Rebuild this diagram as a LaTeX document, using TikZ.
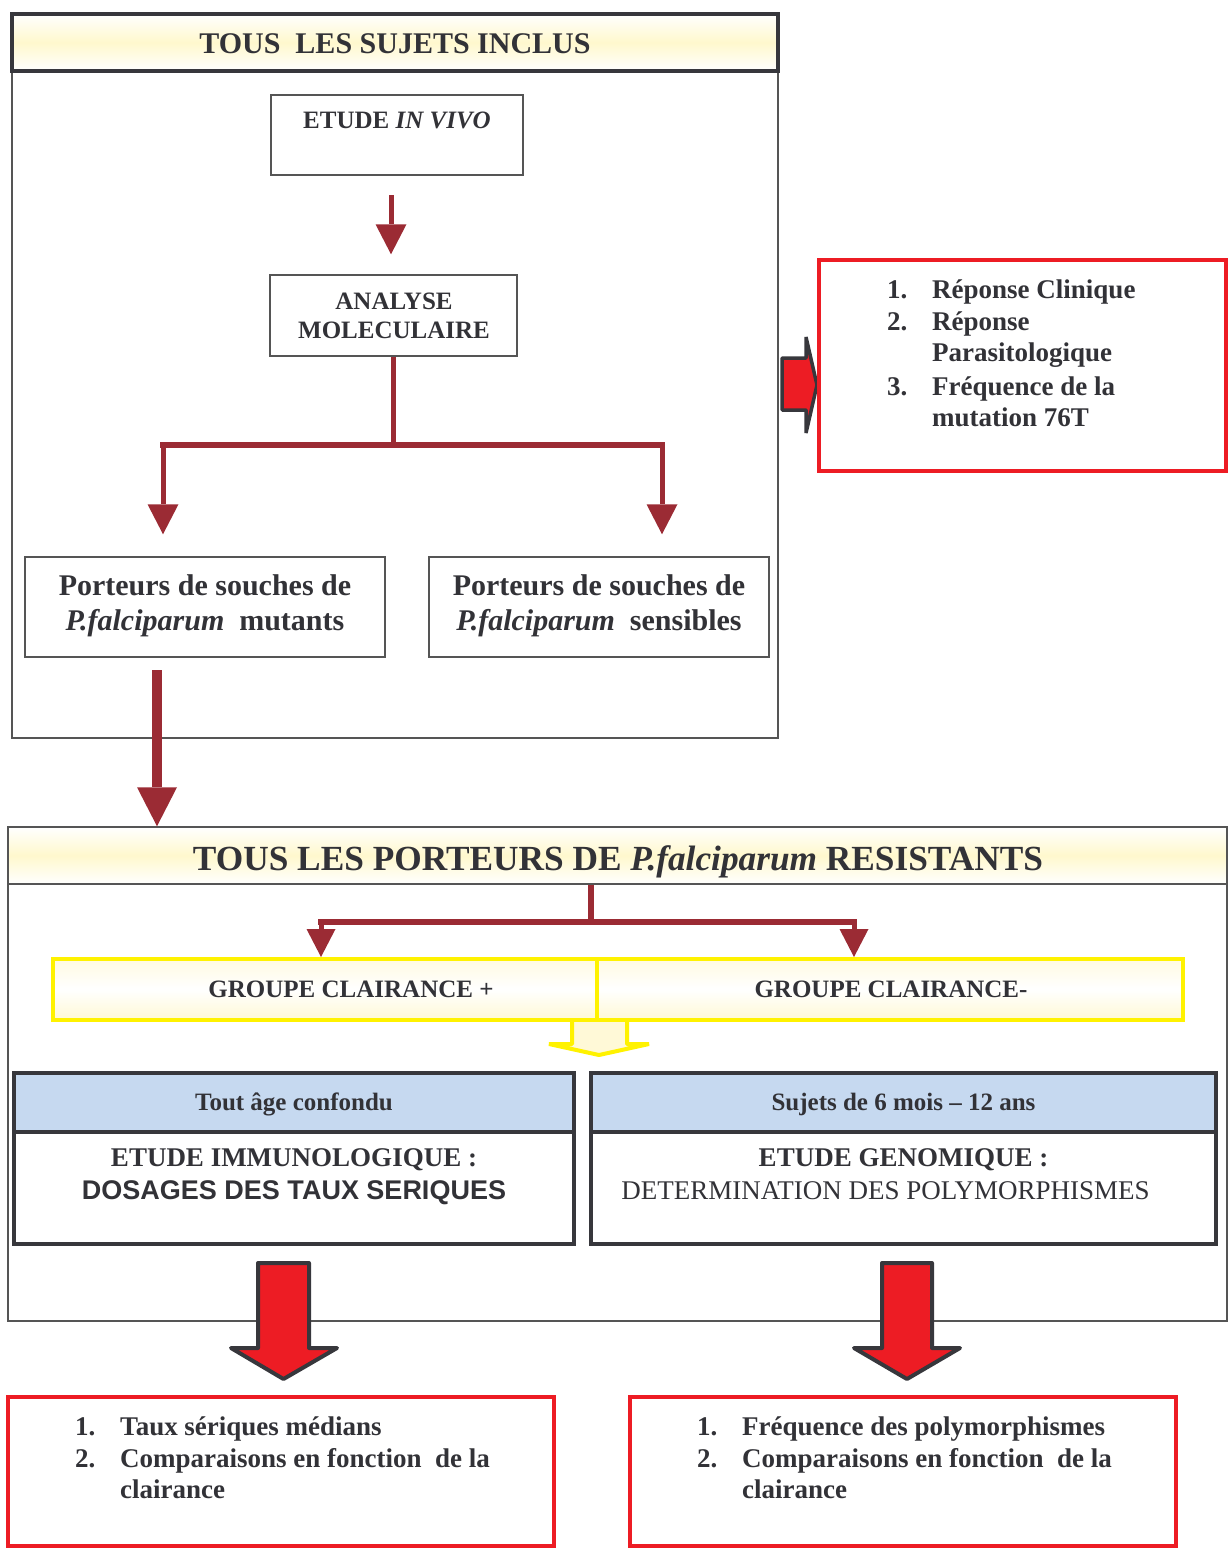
\documentclass[tikz,border=0pt]{standalone}
\usepackage{fontspec}
\setmainfont{Liberation Serif}
\newfontfamily\arialf{Liberation Sans}
\usetikzlibrary{arrows.meta,fit}
\definecolor{txt}{RGB}{50,50,55}
\definecolor{dred}{RGB}{155,43,52}
\definecolor{frm}{RGB}{85,85,85}
\definecolor{dk}{RGB}{55,55,60}
\definecolor{rd}{RGB}{237,28,36}
\definecolor{yl}{RGB}{255,242,0}
\definecolor{pyl}{RGB}{255,248,205}
\definecolor{blu}{RGB}{198,217,240}
\newcommand{\fsz}[1]{\fontsize{#1}{#1}\selectfont}
\begin{document}
\begin{tikzpicture}[x=1pt,y=-1pt,
  every node/.style={text=txt, inner sep=0pt},
  thinframe/.style={draw=frm, line width=1.5pt},
  hdr/.style={top color=white, bottom color=white, middle color=pyl},
  pbox/.style={draw=frm, line width=1.5pt, fill=white},
  rbox/.style={draw=rd, line width=4pt, fill=white},
  ybox/.style={draw=yl, line width=4pt, top color=pyl!60!white, bottom color=pyl!85!white, middle color=white},
  bband/.style={draw=dk, line width=4pt, fill=blu},
  bbody/.style={draw=dk, line width=4pt, fill=white},
  drln/.style={draw=dred, line width=5.5pt},
  drarr/.style={draw=dred, line width=5pt, -{Triangle[width=31pt,length=30pt,line width=0pt]}},
  drarrs/.style={draw=dred, line width=5pt, -{Triangle[width=29pt,length=28pt,line width=0pt]}},
  bigarr/.style={draw=dred, line width=10pt, -{Triangle[width=40pt,length=39pt,line width=0pt]}},
  t30/.style={anchor=base, font=\fsz{30}\bfseries},
  t25/.style={anchor=base, font=\fsz{25}\bfseries},
  t27/.style={anchor=base, font=\fsz{27}\bfseries},
  li/.style={anchor=base west, font=\fsz{27}\bfseries}
]
\useasboundingbox (0,0) rectangle (1228,1548);

% ===== top frame =====
\node[thinframe, fit={(12,14) (778,738)}] (frame1) {};
\node[hdr, draw=dk, line width=3.5pt, fit={(12,14) (778,71)}] (hdr1) {};
\node[t30] (hdr1t) at (395,53) {TOUS\ \ LES SUJETS INCLUS};

\node[pbox, fit={(271,95) (523,175)}] (vivo) {};
\node[t25] (vivot) at (397,128) {ETUDE \textit{IN VIVO}};

\node[pbox, fit={(270,275) (517,356)}] (anal) {};
\node[t25] (analt1) at (394,309) {ANALYSE};
\node[t25] (analt2) at (394,338) {MOLECULAIRE};

\node[pbox, fit={(25,557) (385,657)}] (mut) {};
\node[t30] (mutt1) at (205,595) {Porteurs de souches de};
\node[t30] (mutt2) at (205,630) {\textit{P.falciparum}\ \ mutants};

\node[pbox, fit={(429,557) (769,657)}] (sens) {};
\node[t30] (senst1) at (599,595) {Porteurs de souches de};
\node[t30] (senst2) at (599,630) {\textit{P.falciparum}\ \ sensibles};

\coordinate (a1) at (391,195);
\draw[drarr, shorten >=20pt] (a1) -- (a1 |- anal.north);

\coordinate (bl) at (163,445);
\coordinate (brr) at (662,445);
\draw[drln] (anal.south) -- (anal.south |- bl);
\draw[drln, line cap=rect] (bl) -- (brr);
\draw[drarr, shorten >=22pt] (bl) -- (bl |- mut.north);
\draw[drarr, shorten >=22pt] (brr) -- (brr |- sens.north);

% ===== right result box =====
\filldraw[fill=rd, draw=dk, line width=3.5pt, line join=bevel]
  (782,358) -- (806,358) -- (806,337) -- (817,385) -- (806,433) -- (806,410) -- (782,410) -- cycle;
\node[rbox, fit={(819,260) (1226,471)}] (rres) {};
\node[li] (r1n) at (887,298) {1.};
\node[li] (r1t) at (932,298) {Réponse Clinique};
\node[li] (r2n) at (887,330) {2.};
\node[li] (r2t) at (932,330) {Réponse};
\node[li] (r2u) at (932,361) {Parasitologique};
\node[li] (r3n) at (887,395) {3.};
\node[li] (r3t) at (932,395) {Fréquence de la};
\node[li] (r3u) at (932,426) {mutation 76T};

% ===== second frame =====
\node[thinframe, fit={(8,827) (1227,1321)}] (frame2) {};
\node[hdr, draw=frm, line width=1.5pt, fit={(8,827) (1227,884)}] (res) {};
\node[anchor=base, font=\fsz{35.3}\bfseries] (rest) at (618,870) {TOUS LES PORTEURS DE \textit{P.falciparum} RESISTANTS};

\coordinate (a2) at (157,670);
\draw[bigarr] (a2) -- (a2 |- res.north);

% yellow down arrow (under the boxes)
\filldraw[draw=yl, line width=4pt, fill=pyl!80!white, line join=bevel]
  (572,1018) -- (572,1044) -- (549,1044) -- (599,1055) -- (649,1044) -- (627,1044) -- (627,1018);

\node[ybox, fit={(53,959) (597,1020)}] (gcp) {};
\node[ybox, fit={(597,959) (1183,1020)}] (gcm) {};
\node[t25] (gcpt) at (351,997) {GROUPE CLAIRANCE +};
\node[t25] (gcmt) at (891,997) {GROUPE CLAIRANCE-};

\coordinate (b2c) at (591,922);
\coordinate (b2l) at (321,922);
\coordinate (b2r) at (854,922);
\draw[drln] (res.south -| b2c) -- (b2c);
\draw[drln, line cap=rect] (b2l) -- (b2r);
\draw[drarrs, shorten >=0pt] (b2l) -- (b2l |- gcp.north);
\draw[drarrs, shorten >=0pt] (b2r) -- (b2r |- gcm.north);

% blue boxes
\node[bbody, fit={(14,1132) (574,1244)}] (lbody) {};
\node[bband, fit={(14,1073) (574,1132)}] (lband) {};
\node[bbody, fit={(591,1132) (1216,1244)}] (rbody) {};
\node[bband, fit={(591,1073) (1216,1132)}] (rband) {};
\node[t25] (lbandt) at (294,1110) {Tout âge confondu};
\node[t25] (rbandt) at (903.5,1110) {Sujets de 6 mois – 12 ans};
\node[t27] (lbt1) at (294,1166) {ETUDE IMMUNOLOGIQUE :};
\node[anchor=base, font=\fsz{27}\arialf\bfseries] (lbt2) at (294,1199) {DOSAGES DES TAUX SERIQUES};
\node[t27] (rbt1) at (903.5,1166) {ETUDE GENOMIQUE :};
\node[anchor=base, font=\fsz{27}] (rbt2) at (885.5,1199) {DETERMINATION DES POLYMORPHISMES};

% red block arrows
\filldraw[fill=rd, draw=dk, line width=4pt, line join=round]
  (258,1263) -- (309,1263) -- (309,1348) -- (337,1348) -- (283.5,1379) -- (231,1348) -- (258,1348) -- cycle;
\filldraw[fill=rd, draw=dk, line width=4pt, line join=round]
  (882,1263) -- (932,1263) -- (932,1348) -- (960,1348) -- (907,1379) -- (854,1348) -- (882,1348) -- cycle;

% bottom result boxes
\node[rbox, fit={(8,1397) (554,1546)}] (res1) {};
\node[rbox, fit={(630,1397) (1176,1546)}] (res2) {};
\node[li] (l1n) at (75,1435) {1.};
\node[li] (l1t) at (120,1435) {Taux sériques médians};
\node[li] (l2n) at (75,1467) {2.};
\node[li] (l2t) at (120,1467) {Comparaisons en fonction\ \ de la};
\node[li] (l2u) at (120,1498) {clairance};
\node[li] (m1n) at (697,1435) {1.};
\node[li] (m1t) at (742,1435) {Fréquence des polymorphismes};
\node[li] (m2n) at (697,1467) {2.};
\node[li] (m2t) at (742,1467) {Comparaisons en fonction\ \ de la};
\node[li] (m2u) at (742,1498) {clairance};
\end{tikzpicture}
\end{document}
